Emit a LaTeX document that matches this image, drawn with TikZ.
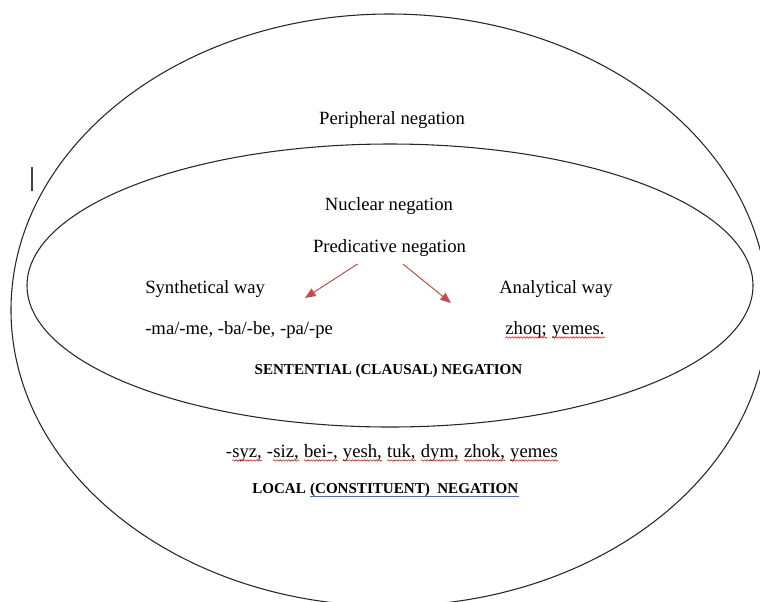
\documentclass[tikz,border=0pt]{standalone}
\usepackage{fontspec}
\setmainfont{Liberation Serif}
\usepackage{tikz}
\usetikzlibrary{arrows.meta,decorations.pathmorphing,positioning}

\definecolor{arrowred}{RGB}{192,80,77}
\definecolor{spellred}{RGB}{220,30,30}
\definecolor{ulblue}{RGB}{60,110,200}

% spell-check wave under one word
\newcommand\sw[1]{\tikz[baseline=(w.base)]{\node[inner sep=0pt, outer sep=0pt, anchor=base] (w) {#1};
  \draw[spellred, line width=0.45pt, decorate, decoration={snake, amplitude=0.55pt, segment length=2.2pt}]
    ([yshift=-2.6pt]w.base west) -- ([yshift=-2.6pt]w.base east);}}

\begin{document}
\begin{tikzpicture}[
  x=0.75pt, y=-0.75pt,
  ring/.style={draw=black!85, line width=0.8pt},
  txt/.style={anchor=base, inner sep=0pt, font=\fontsize{14}{16}\selectfont},
  caps/.style={anchor=base, inner sep=0pt, font=\fontsize{11.3}{13}\selectfont\bfseries},
  arrow/.style={-{Triangle[length=8pt,width=6.5pt]}, draw=arrowred, fill=arrowred, line width=0.75pt}
]
\clip (0,0) rectangle (760,601);

% outer and inner ellipse
\draw[ring] (389.5,310) ellipse [x radius=378.5, y radius=296];
\draw[ring] (390,285.5) ellipse [x radius=363, y radius=141.5];

% cursor mark
\draw[black!75, line width=0.9pt] (32,167) -- (32,191);

\node[txt] (peri) at (392,124) {Peripheral negation};
\node[txt] (nucl) at (389,210) {Nuclear negation};
\node[txt] (pred) at (389.5,252) {Predicative negation};
\node[txt, anchor=base west] (synth) at (145,293) {Synthetical way};
\node[txt, anchor=base west] (synthex) at (145,334) {-ma/-me, -ba/-be, -pa/-pe};
\node[txt] (anal) at (556,293) {Analytical way};
\node[txt] (analex) at (555,334) {\sw{zhoq;} \sw{yemes.}};
\node[caps] (sent) at (388.5,374) {SENTENTIAL (CLAUSAL) NEGATION};
\node[txt] (localex) at (392,457) {-\sw{syz,} -\sw{siz,} \sw{bei-,} \sw{yesh,} \sw{tuk,} \sw{dym,} \sw{zhok,} \sw{yemes}};
\node[caps, anchor=base west] (local) at (252,493) {LOCAL};
\node[caps, right=0.28em of local.base east, anchor=base west] (constit) {(CONSTITUENT)\ \ NEGATION};
\draw[ulblue, line width=0.8pt] ([yshift=-2.8pt]constit.base west) -- ([yshift=-2.8pt]constit.base east);

\coordinate (synarr) at (305,298);
\coordinate (anaarr) at (451,303);
\draw[arrow] ([xshift=-24pt,yshift=-9pt]pred.base) -- (synarr);
\draw[arrow] ([xshift=10pt,yshift=-9pt]pred.base) -- (anaarr);
\end{tikzpicture}
\end{document}
